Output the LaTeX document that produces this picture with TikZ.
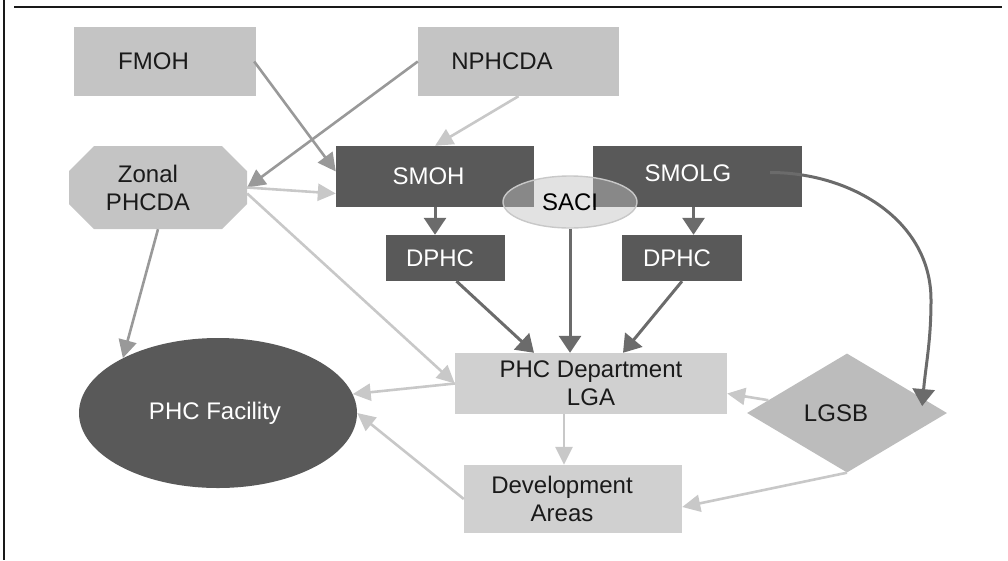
\documentclass[tikz,border=0pt]{standalone}
\usepackage{color}
\usepackage{fontspec}
\setmainfont{Liberation Sans}
\usepackage{tikz}
\usetikzlibrary{arrows.meta,arrows}
\usetikzlibrary{positioning,calc,shapes.geometric}

\definecolor{boxlight}{RGB}{196,196,196}
\definecolor{boxpale}{RGB}{208,208,208}
\definecolor{boxdark}{RGB}{89,89,89}
\definecolor{diamondgray}{RGB}{188,188,188}
\definecolor{ovalgray}{RGB}{192,192,192}
\definecolor{arrowdark}{RGB}{107,107,107}
\definecolor{arrowmid}{RGB}{153,153,153}
\definecolor{arrowpale}{RGB}{200,200,200}
\definecolor{textdark}{RGB}{26,26,26}

% text pulled left inside its box
\newcommand{\lft}[1]{\hspace*{-#1pt}}

\begin{document}
\begin{tikzpicture}[x=1pt,y=1pt,yscale=-1,
  every node/.style={font=\fontsize{24}{28}\selectfont, inner sep=0pt, align=center},
  lightbox/.style={rectangle, fill=boxlight, text=textdark},
  palebox/.style={rectangle, fill=boxpale, text=textdark},
  darkbox/.style={rectangle, fill=boxdark, text=white},
  darkarrow/.style={draw=arrowdark, line width=3pt, -{Triangle[length=17pt,width=22pt]}},
  midarrow/.style={draw=arrowmid, line width=2.6pt, -{Triangle[length=18pt,width=18pt]}},
  palearrow/.style={draw=arrowpale, line width=2.6pt, -{Triangle[length=18pt,width=17pt]}}]
\useasboundingbox (0,0) rectangle (1008,560);

% frame
\draw [line width=2.6pt, color=black!90] (4,0) -- (4,560);
\draw [line width=2.6pt, color=black!90] (14,7) -- (1002,7);

% top row
\node [lightbox, minimum width=182, minimum height=69] (fmoh) at (165,61.5) {\lft{23}FMOH};
\node [lightbox, minimum width=201, minimum height=69] (nphcda) at (518.5,61.5) {\lft{33}NPHCDA};
\coordinate (zc) at (158,187.5);
\fill [boxlight] ($(zc)+(-64,-41.5)$) -- ($(zc)+(64,-41.5)$) -- ($(zc)+(89,-16.5)$) -- ($(zc)+(89,16.5)$)
   -- ($(zc)+(64,41.5)$) -- ($(zc)+(-64,41.5)$) -- ($(zc)+(-89,16.5)$) -- ($(zc)+(-89,-16.5)$) -- cycle;
\node [text=textdark, minimum width=178, minimum height=83] (zonal) at (zc) {\lft{20}Zonal\\\lft{20}PHCDA};

% state level
\node [darkbox, minimum width=198, minimum height=61] (smoh) at (435,176.5) {\lft{13}\raisebox{-3pt}{SMOH}};
\node [darkbox, minimum width=209, minimum height=61] (smolg) at (697.5,176.5) {\lft{19}\raisebox{6pt}{SMOLG}};
\node [ellipse, draw=arrowpale, line width=1.4pt, fill=ovalgray, fill opacity=0.46,
       text opacity=1, text=black, minimum width=134, minimum height=52] (saci) at (570,202) {SACI};
\node [darkbox, minimum width=119, minimum height=46] (dphcl) at (445.5,258) {\lft{11}DPHC};
\node [darkbox, minimum width=120, minimum height=46] (dphcr) at (682,258) {\lft{10}DPHC};

% local level
\node [palebox, minimum width=272, minimum height=61] (phcdept) at (591,383.5) {PHC Department\\LGA};
\node [palebox, minimum width=218, minimum height=68] (dev) at (573,499) {\lft{22}Development\\\lft{22}Areas};
\node [diamond, fill=diamondgray, text=textdark, minimum width=200, minimum height=119] (lgsb) at (847,413) {\lft{22}LGSB};
\node [ellipse, fill=boxdark, text=white, minimum width=278, minimum height=150] (facility) at (218,413) {\lft{6}PHC Facility};

\coordinate (bend) at (931,300);
\coordinate (lgsbtip) at ($(lgsb.north)!0.75!(lgsb.east)+(0,8)$);

% connectors
\draw [midarrow] ($(fmoh.east)+(-2,0)$) -- ($(smoh.west)+(0,-5)$);
\draw [midarrow] (nphcda.west) -- (zonal.east);
\draw [palearrow] (nphcda.south) -- (smoh.north);
\draw [palearrow] (zonal.east) -- ($(smoh.west)+(0,17)$);
\draw [palearrow] ($(zonal.east)+(0,6)$) -- (phcdept.west);
\draw [midarrow] (zonal.south) -- (facility.150);
\draw [darkarrow] (smoh.south) -- (smoh.south |- dphcl.north);
\draw [darkarrow] ($(smolg.south)+(-4,0)$) -- ($(smolg.south |- dphcr.north)+(-4,0)$);
\draw [darkarrow] ($(smolg.east)+(-32,-4)$) to[out=0,in=-90] (bend) to[out=90,in=-85] (lgsbtip);
\draw [darkarrow] (saci.south) -- (saci.south |- phcdept.north);
\draw [darkarrow] ($(dphcl.south)+(11,0)$) -- ($(phcdept.north)+(-57,0)$);
\draw [darkarrow] (dphcr.south) -- ($(phcdept.north)+(32,0)$);
\draw [palearrow] (phcdept.west) -- (facility.8);
\draw [palearrow] ($(phcdept.south)+(-27,0)$) -- ($(phcdept.south |- dev.north)+(-27,0)$);
\draw [palearrow] (dev.west) -- (facility.east);
\draw [palearrow] (lgsb) -- ($(phcdept.east)+(0,10)$);
\draw [palearrow] (lgsb.south) -- ($(dev.east)+(0,8)$);

\end{tikzpicture}
\end{document}
